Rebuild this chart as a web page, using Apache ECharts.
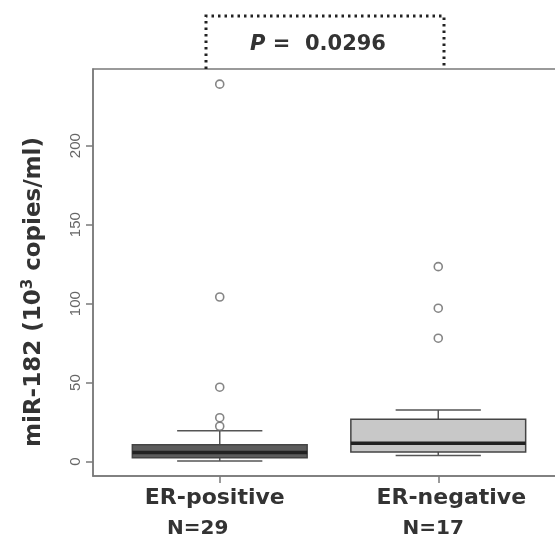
<!DOCTYPE html>
<html>
<head>
<meta charset="utf-8">
<script src="https://cdn.jsdelivr.net/npm/echarts@6/dist/echarts.min.js"></script>
<style>html,body{margin:0;padding:0;background:#fff;}#c{width:555px;height:538px;}</style>
</head>
<body>
<div id="c"></div>
<script>
var categories = ['ER-positive', 'ER-negative'];
var groupCounts = ['N=29', 'N=17'];
var lowerWhisker = [0.4, 3.8];
var q1 = [2.5, 6.1];
var median = [5.7, 11.6];
var q3 = [10.6, 26.8];
var upperWhisker = [19.6, 32.7];
var outliersPositive = [22.4, 27.8, 47.1, 104.2, 238.9];
var outliersNegative = [78.1, 97.1, 123.4];
var yTicks = [0, 50, 100, 150, 200];
var pText = '0.0296';

var boxFill = ['#5c5c5c', '#c8c8c8'];
var catLabelShift = [-5, 13];
var countLabelShift = [-22, -5];
var boxData = categories.map(function (c, i) {
  return [i + 1, lowerWhisker[i], q1[i], median[i], q3[i], upperWhisker[i], i];
});
var outData = [];
outliersPositive.forEach(function (v) { outData.push([1, v]); });
outliersNegative.forEach(function (v) { outData.push([2, v]); });

var FONT = 'DejaVu Sans, Arial';
var chart = echarts.init(document.getElementById('c'));
chart.setOption({
  animation: false,
  backgroundColor: '#fff',
  grid: { left: 93, top: 69, width: 472, bottom: 62, outerBoundsMode: 'none', containLabel: false, show: true, borderColor: '#7a7a7a', borderWidth: 1.5, backgroundColor: 'transparent' },
  xAxis: {
    type: 'value', min: 0.42, max: 2.58,
    splitLine: { show: false },
    axisLine: { show: true, onZero: false, lineStyle: { color: '#7a7a7a', width: 1.5 } },
    axisTick: { show: true, customValues: [1, 2], length: 7, lineStyle: { color: '#7a7a7a', width: 1.5 } },
    axisLabel: { show: false }
  },
  yAxis: {
    type: 'value', min: -9.1, max: 248.5,
    splitLine: { show: false },
    axisLine: { show: true, onZero: false, lineStyle: { color: '#7a7a7a', width: 1.5 } },
    axisTick: { show: true, customValues: yTicks, length: 7, lineStyle: { color: '#7a7a7a', width: 1.5 } },
    axisLabel: { customValues: yTicks, rotate: 90, margin: 10, fontFamily: 'Liberation Sans, Arial', fontSize: 15, color: '#666' }
  },
  series: [
    {
      type: 'custom',
      data: boxData,
      encode: { x: 0, y: [1, 2, 3, 4, 5] },
      renderItem: function (params, api) {
        var x = api.value(0);
        var idx = api.value(6);
        var pLo = api.coord([x, api.value(1)]);
        var pQ1 = api.coord([x, api.value(2)]);
        var pMed = api.coord([x, api.value(3)]);
        var pQ3 = api.coord([x, api.value(4)]);
        var pHi = api.coord([x, api.value(5)]);
        var halfBox = api.size([0.4, 0])[0];
        var halfCap = api.size([0.195, 0])[0];
        var cx = pQ1[0];
        var lineStyle = { stroke: '#555', lineWidth: 1.5 };
        return {
          type: 'group',
          children: [
            { type: 'line', shape: { x1: cx, y1: pHi[1], x2: cx, y2: pQ3[1] }, style: lineStyle },
            { type: 'line', shape: { x1: cx, y1: pLo[1], x2: cx, y2: pQ1[1] }, style: lineStyle },
            { type: 'line', shape: { x1: cx - halfCap, y1: pHi[1], x2: cx + halfCap, y2: pHi[1] }, style: lineStyle },
            { type: 'line', shape: { x1: cx - halfCap, y1: pLo[1], x2: cx + halfCap, y2: pLo[1] }, style: lineStyle },
            { type: 'rect', shape: { x: cx - halfBox, y: pQ3[1], width: 2 * halfBox, height: pQ1[1] - pQ3[1] },
              style: { fill: boxFill[idx], stroke: '#444', lineWidth: 1.5 } },
            { type: 'line', shape: { x1: cx - halfBox, y1: pMed[1], x2: cx + halfBox, y2: pMed[1] },
              style: { stroke: '#222', lineWidth: 3.5 } }
          ]
        };
      }
    },
    {
      type: 'scatter',
      data: outData,
      symbol: 'circle', symbolSize: 8,
      itemStyle: { color: '#fff', borderColor: '#666', borderWidth: 1.6 }
    }
  ]
});

var graphics = [
  {
    type: 'polyline', silent: true,
    shape: { points: [[206, 69], [206, 16], [444, 16], [444, 69]] },
    style: { stroke: '#222', lineWidth: 3, lineDash: [2.5, 4], fill: null }
  },
  {
    type: 'text', x: 318, y: 45,
    style: {
      text: '{i|P}{n| =  ' + pText + '}', align: 'center', verticalAlign: 'middle',
      rich: {
        i: { fontFamily: FONT, fontStyle: 'italic', fontWeight: 'bold', fontSize: 21, fill: '#333' },
        n: { fontFamily: FONT, fontWeight: 'bold', fontSize: 21, fill: '#333' }
      }
    }
  },
  {
    type: 'text', x: 34, y: 292, rotation: Math.PI / 2,
    style: {
      text: '{t|miR-182 (10}{s|3}{t| copies/ml)}', align: 'center', verticalAlign: 'middle',
      rich: {
        t: { fontFamily: FONT, fontWeight: 'bold', fontSize: 23, fill: '#333' },
        s: { fontFamily: FONT, fontWeight: 'bold', fontSize: 15, fill: '#333', verticalAlign: 'top', padding: [0, 0, 12, 0] }
      }
    }
  }
];
categories.forEach(function (c, i) {
  var px = chart.convertToPixel({ xAxisIndex: 0 }, i + 1);
  graphics.push({
    type: 'text', x: px + catLabelShift[i], y: 498,
    style: { text: c, align: 'center', verticalAlign: 'middle', fontFamily: FONT, fontWeight: 'bold', fontSize: 22, fill: '#333' }
  });
  graphics.push({
    type: 'text', x: px + countLabelShift[i], y: 529,
    style: { text: groupCounts[i], align: 'center', verticalAlign: 'middle', fontFamily: FONT, fontWeight: 'bold', fontSize: 20, fill: '#333' }
  });
});
chart.setOption({ graphic: graphics });
</script>
</body>
</html>
